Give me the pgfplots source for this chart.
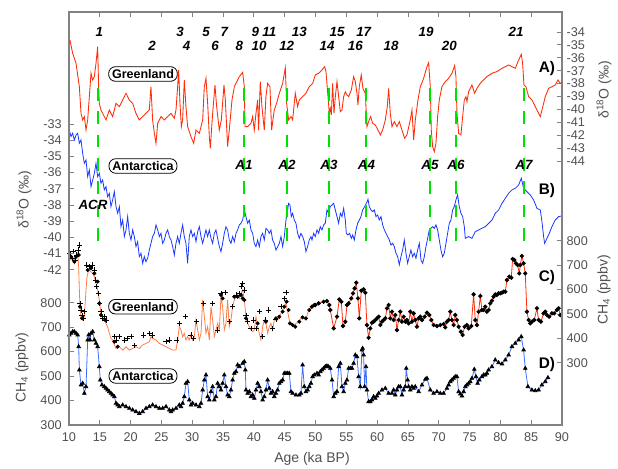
\documentclass[border=0pt]{standalone}
\usepackage{fontspec}
\setmainfont{Liberation Sans}
\usepackage{pgfplots}
\pgfplotsset{compat=1.18}
\definecolor{gred}{RGB}{255,45,10}
\definecolor{ablue}{RGB}{25,55,255}
\definecolor{gorange}{RGB}{255,125,70}
\definecolor{cblue}{RGB}{60,110,255}
\definecolor{dgreen}{RGB}{0,225,0}
\definecolor{axgray}{RGB}{130,130,130}
\definecolor{tickgray}{RGB}{80,80,80}
\pgfplotsset{
  base/.style={
    scale only axis, width=369.75pt, height=309.75pt,
    xmin=10, xmax=90, at={(0pt,0pt)}, anchor=south west,
    /pgf/number format/assume math mode=true,
    ticklabel style={font=\fontsize{9.5}{11}\selectfont, text=tickgray},
    axis line style={axgray, line width=0.8pt},
    major tick style={axgray, line width=0.6pt},
    major tick length=3.5pt, tick align=inside,
  },
  over/.style={base, hide x axis},
}
\begin{document}
\begin{tikzpicture}
\path[use as bounding box] (-51.75pt,-32.25pt) rectangle (411.75pt,318.75pt);
% ---------- frame + Antarctica CH4 (left axis) ----------
\begin{axis}[base, ymin=300, ymax=1988, ytick={300,400,500,600,700,800},
  ytick pos=left, yticklabel pos=left, yticklabel style={xshift=-2pt},
  xtick={10,15,...,90}, xtick pos=both, xticklabel pos=lower,
  xticklabel style={yshift=-2.5pt}]
\addplot[cblue, line width=0.6pt, mark=triangle*, mark size=1.5pt, mark options={black, fill=black, solid}] coordinates {
(10.05,667.9)(10.32,674.7)(10.59,681.5)(10.87,681.5)(11.14,674.7)(11.41,667.9)(11.57,620.2)(11.68,524.8)(11.95,463.5)(12.22,470.3)(12.49,429.4)(12.76,456.7)(13.03,647.5)(13.19,667.9)(13.41,647.5)(13.57,674.7)(13.84,681.5)(14.11,647.5)(14.38,633.8)(14.65,620.2)(14.92,538.4)(15.08,483.9)(15.35,463.5)(15.73,456.7)(16.00,449.9)(16.27,443.0)(16.54,436.2)(16.81,429.4)(17.08,422.6)(17.36,415.8)(17.63,388.5)(17.90,381.7)(18.17,374.9)(18.71,381.7)(19.25,374.9)(19.79,368.1)(20.33,361.3)(20.87,354.5)(21.41,347.6)(21.95,354.5)(22.49,368.1)(23.03,374.9)(23.57,381.7)(24.12,374.9)(24.66,368.1)(25.20,368.1)(25.74,374.9)(26.28,361.3)(26.55,354.5)(26.82,361.3)(27.36,368.1)(27.90,381.7)(28.17,374.9)(28.44,388.5)(28.71,415.8)(28.98,470.3)(29.25,477.1)(29.52,402.2)(29.79,381.7)(30.06,388.5)(30.61,381.7)(31.15,374.9)(31.42,388.5)(31.69,443.0)(31.96,483.9)(32.23,504.4)(32.50,415.8)(32.77,402.2)(33.04,436.2)(33.31,456.7)(33.58,402.2)(33.85,415.8)(34.12,470.3)(34.39,456.7)(34.66,443.0)(34.93,470.3)(35.20,504.4)(35.47,456.7)(35.74,422.6)(36.01,415.8)(36.28,443.0)(36.55,483.9)(36.82,511.2)(37.10,518.0)(37.36,545.3)(37.64,538.4)(38.18,552.1)(38.45,558.9)(38.61,524.8)(38.72,443.0)(38.99,429.4)(39.26,436.2)(39.53,415.8)(39.80,422.6)(40.07,409.0)(40.34,443.0)(40.61,470.3)(40.88,456.7)(41.15,436.2)(41.42,402.2)(41.69,415.8)(41.96,443.0)(42.23,483.9)(42.50,449.9)(42.77,429.4)(43.04,436.2)(43.31,415.8)(43.58,429.4)(43.85,443.0)(44.12,470.3)(44.40,477.1)(44.67,483.9)(44.94,511.2)(45.21,511.2)(45.48,511.2)(45.75,511.2)(46.02,436.2)(46.29,429.4)(46.83,422.6)(47.37,422.6)(47.64,429.4)(47.91,545.3)(48.18,456.7)(48.45,436.2)(48.72,443.0)(48.99,456.7)(49.26,470.3)(49.53,497.6)
(49.80,504.4)(50.24,511.2)(50.51,504.4)(50.78,518.0)(51.05,524.8)(51.32,531.6)(51.59,538.4)(51.86,541.2)(52.13,538.4)(52.40,531.6)(52.68,483.9)(52.95,415.8)(53.22,429.4)(53.49,436.2)(53.76,538.4)(54.03,552.1)(54.30,456.7)(54.57,436.2)(54.84,470.3)(55.11,483.9)(55.38,531.6)(55.65,531.6)(55.92,531.6)(56.19,552.1)(56.46,586.1)(56.73,579.3)(57.00,497.6)(57.27,456.7)(57.54,606.6)(57.65,613.4)(57.81,586.1)(57.97,456.7)(58.19,538.4)(58.35,443.0)(58.62,395.4)(58.89,395.4)(59.16,402.2)(59.43,415.8)(59.70,409.0)(59.98,418.5)(60.25,429.4)(60.79,443.0)(61.33,449.9)(61.87,429.4)(62.41,429.4)(62.68,443.0)(62.95,422.6)(63.22,443.0)(63.49,456.7)(63.76,456.7)(64.03,422.6)(64.30,443.0)(64.57,456.7)(64.73,531.6)(64.95,483.9)(65.11,456.7)(65.38,443.0)(65.65,456.7)(65.92,449.9)(66.19,456.7)(66.74,436.2)(67.28,463.5)(67.82,486.6)(68.09,490.7)(68.63,443.0)(69.17,429.4)(69.71,436.2)(70.25,429.4)(70.79,429.4)(71.33,449.9)(71.60,463.5)(71.87,477.1)(72.14,483.9)(72.41,490.7)(72.68,497.6)(72.95,497.6)(73.23,436.2)(73.50,426.7)(73.77,418.5)(74.04,436.2)(74.31,456.7)(74.58,463.5)(74.85,470.3)(75.12,477.1)(75.39,490.7)(75.77,527.5)(76.04,497.6)(76.31,470.3)(76.58,483.9)(77.01,497.6)(77.28,504.4)(77.55,504.4)(77.82,511.2)(78.09,524.8)(78.63,538.4)(79.17,565.7)(79.71,554.8)(80.26,549.4)(80.80,565.7)(81.34,586.1)(81.88,620.2)(82.42,633.8)(82.96,647.5)(83.39,661.1)(83.77,606.6)(84.04,531.6)(84.47,456.7)(85.12,443.0)(85.66,440.3)(86.20,443.0)(86.74,463.5)(87.29,477.1)(87.72,493.5)};
\end{axis}
% ---------- Greenland CH4 (right axis) ----------
\begin{axis}[over, ymin=45, ymax=1737, ytick={300,400,500,600,700,800},
  ytick pos=right, yticklabel pos=right]
\addplot[gorange, line width=0.6pt] coordinates {
(10.05,741.4)(10.32,720.9)(10.59,734.6)(10.87,707.3)(11.14,727.8)(11.41,748.3)(11.57,693.6)(11.68,598.0)(11.78,529.7)(11.95,488.7)(12.22,475.0)(12.49,488.7)(12.76,598.0)(12.92,652.6)(13.19,680.0)(13.57,673.1)(13.84,666.3)(14.11,652.6)(14.38,625.3)(14.65,598.0)(14.92,557.0)(15.19,502.4)(15.46,488.7)(15.73,475.0)(16.00,461.4)(16.27,447.7)(16.54,420.4)(16.81,399.9)(17.08,393.1)(17.36,372.6)(17.63,358.9)(18.17,365.8)(18.71,352.1)(19.25,365.8)(19.79,352.1)(20.33,358.9)(20.87,365.8)(21.41,358.9)(21.95,372.6)(22.49,379.4)(23.03,386.3)(23.30,406.8)(23.57,399.9)(24.12,393.1)(24.66,379.4)(25.20,372.6)(25.74,365.8)(26.28,358.9)(26.82,352.1)(27.36,352.1)(27.63,393.1)(27.90,447.7)(28.17,434.1)(28.44,406.8)(28.71,420.4)(28.98,393.1)(29.25,406.8)(29.52,393.1)(29.79,413.6)(30.06,393.1)(30.34,406.8)(30.61,475.0)(30.88,434.1)(31.15,393.1)(31.42,420.4)(31.69,557.0)(31.96,488.7)(32.23,420.4)(32.50,447.7)(32.77,393.1)(33.04,529.7)(33.31,475.0)(33.58,406.8)(33.85,434.1)(34.12,461.4)(34.39,434.1)(34.66,570.7)(34.93,529.7)(35.20,434.1)(35.47,461.4)(35.74,557.0)(36.01,447.7)(36.28,475.0)(36.55,529.7)(36.82,557.0)(37.10,570.7)(37.36,577.5)(37.64,563.8)(37.90,584.3)(38.18,598.0)(38.45,557.0)(38.72,488.7)(38.99,461.4)(39.26,447.7)(39.53,434.1)(39.80,427.2)(40.07,434.1)(40.34,488.7)(40.61,447.7)(40.88,420.4)(41.15,393.1)(41.42,447.7)(41.69,475.0)(41.96,461.4)(42.23,420.4)(42.50,447.7)(42.77,461.4)(43.04,434.1)(43.31,475.0)(43.58,481.9)(43.85,475.0)(44.12,488.7)(44.40,502.4)(44.67,516.1)(44.94,529.7)(45.21,543.4)(45.48,509.2)(45.75,475.0)(46.02,461.4)(46.29,454.6)(46.56,450.5)(46.83,461.4)(47.37,468.3)(47.64,481.9)(47.91,488.7)(48.18,481.9)(48.45,475.0)(48.72,502.4)(48.99,516.1)(49.53,529.7)(49.96,536.5)};
\addplot[only marks, mark=+, mark size=1.9pt, mark options={black, line width=0.55pt}] coordinates {
(10.16,748.3)(10.49,727.8)(10.70,755.1)(11.03,720.9)(11.24,741.4)(11.46,761.9)(11.68,782.4)(11.78,543.4)(11.95,516.1)(12.11,495.5)(12.33,481.9)(12.49,509.2)(12.87,700.5)(13.30,693.6)(13.73,700.5)(14.11,680.0)(14.27,639.0)(14.49,611.7)(14.81,584.3)(14.92,543.4)(15.19,509.2)(15.46,481.9)(15.73,488.7)(16.00,475.1)(17.36,406.8)(17.63,393.1)(18.17,406.8)(18.98,393.1)(19.52,399.9)(20.06,406.8)(20.60,372.6)(22.06,413.6)(23.03,420.4)(23.47,413.6)(25.74,386.3)(26.28,393.1)(27.52,393.1)(27.90,461.4)(28.87,488.7)(29.79,413.6)(30.17,399.9)(30.71,468.3)(31.79,543.4)(33.31,543.4)(34.12,434.1)(34.66,584.3)(35.31,587.1)(36.01,468.3)(36.55,529.7)(37.10,577.5)(37.64,584.3)(38.01,611.7)(38.18,625.3)(38.45,598.0)(38.72,495.5)(38.99,468.3)(39.53,440.9)(39.91,475.1)(40.45,440.9)(40.88,509.2)(41.42,406.8)(41.85,475.1)(42.39,516.1)(43.04,440.9)(43.58,477.8)(44.40,529.7)(44.94,563.8)(45.21,587.1)};
\addplot[only marks, mark=*, mark size=1.3pt, mark options={black}] coordinates {
(10.32,734.6)(10.87,714.1)(11.14,734.6)(11.57,741.4)(11.78,529.7)(12.11,481.9)(13.03,680.0)(13.57,686.8)(14.11,666.3)(14.65,632.2)(14.92,543.4)(15.19,495.5)(15.89,475.1)(17.36,386.3)(17.90,365.8)(34.66,577.5)(34.93,563.8)(36.82,570.7)(37.36,570.7)(37.90,577.5)(38.18,563.8)(38.45,557.0)(38.72,481.9)(40.61,461.4)(41.96,468.3)(43.58,481.9)(44.12,488.7)(44.67,509.2)(44.94,529.7)(45.31,550.2)(45.64,516.1)(45.85,461.4)(46.29,454.6)(46.72,447.7)(47.37,468.3)(47.91,486.0)(48.45,481.9)(48.99,516.1)(49.80,536.5)};
\addplot[gred, line width=0.6pt, mark=*, mark size=1.3pt, mark options={black}] coordinates {
(49.43,529.7)(49.97,536.5)(50.51,543.4)(51.32,550.2)(51.86,552.9)(52.24,536.5)(52.40,516.1)(52.95,440.9)(53.49,488.7)(53.86,559.8)(54.19,550.2)(54.46,450.5)(54.84,468.3)(55.11,536.5)(55.38,543.4)(55.81,563.8)(56.08,584.3)(56.35,604.8)(56.62,628.1)(56.89,563.8)(57.11,481.9)(57.43,595.3)(57.81,600.7)(58.08,587.1)(58.35,454.6)(58.62,402.7)(58.89,440.9)(59.16,464.1)(59.43,468.3)(59.71,475.1)(59.98,481.9)(60.25,488.7)(60.52,454.6)(60.79,468.3)(61.06,475.1)(61.33,481.9)(61.60,522.9)(61.87,536.5)(62.14,481.9)(62.41,509.2)(62.68,475.1)(62.95,495.5)(63.22,434.1)(63.49,475.1)(63.76,509.2)(64.03,468.3)(64.30,488.7)(64.57,468.3)(64.84,475.1)(65.11,461.4)(65.38,509.2)(65.65,468.3)(65.92,502.4)(66.19,475.1)(66.47,447.7)(66.74,481.9)(67.01,488.7)(67.28,475.1)(67.71,488.7)(68.09,505.1)(68.47,495.5)(68.79,475.1)(69.17,454.6)(69.71,450.5)(70.25,454.6)(70.79,458.7)(71.06,445.0)(71.33,468.3)(71.60,475.1)(71.87,509.2)(72.14,475.1)(72.41,454.6)(72.68,495.5)(72.95,475.1)(73.23,447.7)(73.60,427.2)(73.87,413.6)(74.20,447.7)(74.58,454.6)(74.85,440.9)(75.28,450.5)(75.66,580.2)(75.93,475.1)(76.20,454.6)(76.47,509.2)(76.74,573.4)(77.01,516.1)(77.28,516.1)(77.55,529.7)(77.82,509.2)(78.09,516.1)(78.36,543.4)(78.63,554.3)(78.90,570.7)(79.17,580.2)(79.44,577.5)(79.71,584.3)(79.99,584.3)(80.26,587.1)(80.53,591.2)(80.80,591.2)(81.07,639.0)(81.45,652.6)(81.77,648.5)(81.99,725.0)(82.26,720.9)(82.53,707.3)(82.80,700.5)(83.07,666.3)(83.23,700.5)(83.50,737.3)(83.77,707.3)(84.04,666.3)(84.31,509.2)(84.58,475.1)(84.85,461.4)(85.12,468.3)(85.50,475.1)(85.93,522.9)(86.20,475.1)(86.58,468.3)(87.01,502.4)(87.29,509.2)(87.56,495.5)(87.93,488.7)(88.37,502.4)(88.75,502.4)(89.18,516.1)(89.45,522.9)(89.72,495.5)};
\end{axis}
% ---------- Antarctica d18O (left axis) ----------
\begin{axis}[over, ymin=-51.58, ymax=-26.09, ytick={-42,-41,...,-33},
  ytick pos=left, yticklabel pos=left, yticklabel style={xshift=-2pt}]
\addplot[ablue, line width=0.6pt] coordinates {
(10.05,-33.37)(10.32,-33.78)(10.59,-33.58)(10.87,-33.99)(11.14,-33.68)(11.41,-33.58)(11.68,-34.19)(11.95,-33.99)(12.22,-34.81)(12.49,-35.43)(12.76,-35.22)(13.03,-36.25)(13.30,-35.84)(13.57,-36.87)(13.84,-36.46)(14.11,-36.05)(14.38,-35.43)(14.65,-36.25)(14.92,-36.05)(15.19,-36.66)(15.46,-36.46)(15.73,-37.07)(16.00,-36.87)(16.27,-37.49)(16.54,-37.28)(16.81,-38.10)(17.08,-37.69)(17.36,-37.18)(17.63,-38.10)(17.90,-38.51)(18.17,-38.10)(18.44,-39.34)(18.71,-38.93)(18.98,-39.95)(19.25,-39.54)(19.52,-38.72)(19.79,-39.75)(20.06,-40.16)(20.33,-39.54)(20.60,-39.95)(20.87,-40.57)(21.14,-40.26)(21.41,-41.19)(21.68,-40.98)(21.95,-41.60)(22.22,-41.19)(22.49,-41.50)(22.76,-41.29)(23.03,-40.78)(23.30,-40.37)(23.57,-39.95)(23.85,-39.75)(24.12,-39.23)(24.39,-39.54)(24.66,-39.95)(24.93,-39.75)(25.20,-40.37)(25.47,-40.16)(25.74,-39.75)(26.01,-39.54)(26.28,-39.95)(26.55,-40.16)(26.82,-40.57)(27.09,-41.09)(27.36,-40.37)(27.63,-39.95)(27.90,-40.37)(28.17,-39.75)(28.44,-39.23)(28.71,-39.95)(28.98,-40.37)(29.25,-41.60)(29.52,-39.95)(29.79,-39.54)(30.06,-39.95)(30.34,-39.75)(30.61,-40.26)(30.88,-39.65)(31.15,-39.34)(31.42,-39.95)(31.69,-40.37)(31.96,-39.95)(32.23,-39.54)(32.50,-39.95)(32.77,-39.54)(33.04,-40.06)(33.31,-40.37)(33.58,-39.75)(33.85,-39.54)(34.12,-40.06)(34.39,-40.57)(34.66,-40.88)(34.93,-40.37)(35.20,-39.75)(35.47,-39.34)(35.74,-39.54)(36.01,-40.16)(36.28,-40.37)(36.55,-39.95)(36.83,-40.26)(37.10,-39.75)(37.37,-39.54)(37.64,-39.23)(37.91,-39.13)(38.18,-38.93)(38.45,-38.31)(38.72,-38.72)(38.99,-39.13)(39.26,-38.93)(39.53,-39.54)(39.80,-39.75)(40.07,-40.37)(40.34,-40.57)(40.61,-40.16)(40.88,-40.57)(41.15,-39.95)(41.42,-39.75)(41.69,-40.16)(41.96,-39.44)(42.23,-39.54)(42.50,-39.75)(42.77,-39.54)(43.04,-40.16)(43.31,-40.37)(43.58,-40.78)(43.86,-40.57)(44.13,-40.37)(44.40,-39.95)(44.67,-40.57)(44.94,-39.95)(45.21,-38.93)(45.48,-38.31)(45.64,-37.90)(45.86,-38.00)(46.07,-38.72)(46.29,-38.51)(46.56,-38.93)(46.83,-39.13)(47.10,-39.75)(47.37,-40.06)(47.64,-39.75)(47.91,-39.95)(48.18,-40.26)(48.45,-40.88)(48.72,-40.57)(48.99,-40.16)(49.26,-39.95)
(49.43,-40.16)(49.70,-39.75)(49.97,-39.95)(50.24,-39.54)(50.51,-39.75)(50.78,-39.34)(51.05,-39.54)(51.32,-39.23)(51.59,-39.13)(51.86,-38.31)(52.13,-38.51)(52.40,-38.10)(52.68,-38.00)(52.95,-37.90)(53.22,-38.31)(53.49,-38.72)(53.76,-39.13)(54.03,-38.51)(54.30,-38.72)(54.57,-38.21)(54.84,-38.93)(55.00,-39.75)(55.27,-39.85)(55.54,-39.75)(55.81,-40.06)(56.03,-39.85)(56.30,-40.16)(56.57,-39.54)(56.84,-39.13)(57.11,-38.93)(57.38,-38.72)(57.65,-38.31)(57.98,-38.10)(58.25,-37.90)(58.52,-37.65)(58.73,-38.10)(59.00,-38.31)(59.27,-38.41)(59.54,-38.31)(59.81,-38.72)(60.08,-38.62)(60.35,-38.93)(60.63,-38.72)(60.90,-39.23)(61.17,-39.54)(61.44,-39.75)(61.71,-39.95)(61.98,-40.16)(62.25,-40.47)(62.52,-40.37)(62.79,-40.57)(63.06,-40.98)(63.33,-41.19)(63.60,-41.70)(63.87,-41.19)(64.14,-40.78)(64.41,-40.16)(64.68,-40.98)(64.95,-41.60)(65.22,-41.19)(65.49,-40.78)(65.76,-41.19)(66.03,-40.98)(66.30,-41.29)(66.57,-40.78)(66.85,-40.37)(67.12,-41.39)(67.39,-41.60)(67.66,-41.19)(67.93,-40.57)(68.20,-40.06)(68.47,-39.54)(68.74,-39.44)(69.01,-39.34)(69.28,-39.44)(69.55,-39.23)(69.82,-39.54)(70.09,-40.16)(70.36,-40.78)(70.63,-41.19)(70.90,-40.98)(71.17,-40.37)(71.44,-39.75)(71.71,-39.13)(71.98,-38.93)(72.25,-38.31)(72.52,-38.10)(72.79,-37.69)(73.06,-37.38)(73.33,-38.10)(73.60,-38.51)(73.88,-38.72)(74.15,-39.34)(74.31,-40.06)(74.85,-39.95)(75.39,-40.06)(75.66,-39.85)(75.93,-39.65)(76.47,-39.54)(77.01,-39.44)(77.55,-39.34)(78.10,-39.13)(78.64,-38.93)(79.18,-38.51)(79.72,-38.31)(80.26,-37.90)(80.80,-37.59)(81.34,-37.28)(81.88,-37.07)(82.42,-36.97)(82.96,-36.77)(83.40,-36.35)(83.77,-36.97)(84.31,-37.18)(84.85,-37.38)(85.40,-37.69)(85.94,-38.21)(86.48,-38.31)(86.75,-39.03)(87.02,-39.95)(87.18,-40.37)(87.56,-40.06)(87.94,-39.75)(88.37,-39.34)(88.91,-38.93)(89.45,-38.72)(89.89,-38.68)};
\end{axis}
% ---------- Greenland d18O (right axis) ----------
\begin{axis}[over, ymin=-64.47, ymax=-32.45, ytick={-44,-43,...,-34},
  ytick pos=right, yticklabel pos=right]
\addplot[gred, line width=0.65pt] coordinates {
(10.16,-34.62)(10.59,-35.65)(11.14,-36.43)(11.68,-38.24)(11.95,-40.31)(12.22,-40.82)(12.49,-40.56)(12.76,-41.60)(13.03,-40.82)(13.30,-39.01)(13.57,-37.20)(13.84,-37.72)(14.11,-37.46)(14.38,-36.43)(14.65,-35.14)(14.81,-38.24)(14.92,-39.53)(15.19,-40.05)(15.73,-40.56)(16.00,-40.82)(16.54,-40.05)(17.08,-40.56)(17.63,-39.53)(18.17,-39.79)(18.71,-39.27)(19.25,-38.75)(19.79,-39.27)(20.33,-39.53)(20.87,-40.31)(21.41,-40.82)(21.95,-40.56)(22.49,-40.31)(23.03,-40.05)(23.30,-38.24)(23.57,-40.82)(23.85,-41.86)(24.12,-42.63)(24.39,-41.08)(24.93,-40.56)(25.47,-40.82)(26.01,-40.56)(26.55,-40.31)(27.09,-40.69)(27.36,-40.05)(27.63,-38.24)(27.79,-36.95)(28.01,-39.53)(28.23,-41.34)(28.44,-40.82)(28.71,-37.72)(28.98,-39.79)(29.25,-41.34)(29.79,-42.11)(30.23,-42.63)(30.61,-41.60)(31.15,-41.86)(31.69,-40.82)(31.96,-38.24)(32.23,-37.59)(32.50,-39.53)(32.77,-42.11)(32.93,-43.02)(33.31,-40.31)(33.69,-38.11)(33.96,-39.79)(34.39,-41.60)(34.72,-40.82)(35.15,-38.11)(35.37,-39.27)(35.74,-42.89)(36.01,-41.60)(36.45,-39.27)(36.83,-38.24)(37.37,-37.72)(37.64,-37.46)(38.18,-37.13)(38.45,-38.24)(38.56,-41.34)(38.99,-41.34)(39.53,-41.08)(39.80,-40.56)(40.07,-41.60)(40.34,-40.31)(40.61,-39.27)(40.77,-41.60)(41.04,-37.85)(41.31,-39.79)(41.69,-41.60)(41.96,-39.01)(42.23,-37.98)(42.61,-38.24)(42.88,-41.60)(43.31,-40.05)(43.69,-39.53)(44.13,-38.75)(44.67,-37.98)(45.10,-36.77)(45.32,-39.53)(45.64,-40.82)(46.02,-40.56)(46.29,-40.82)(46.72,-38.75)(47.10,-39.79)(47.37,-39.27)(47.91,-39.01)(48.45,-38.75)(48.99,-38.24)(49.54,-37.98)(49.97,-37.33)(50.51,-37.20)(51.05,-36.95)(51.49,-36.69)(51.70,-37.07)(52.03,-39.01)(52.24,-40.31)(52.40,-39.92)(52.57,-40.43)(52.78,-37.98)(53.00,-40.31)(53.22,-39.01)(53.49,-37.85)(53.76,-39.01)(54.03,-40.18)(54.30,-40.05)(54.57,-39.01)(54.84,-38.63)(55.11,-38.88)(55.38,-39.01)(55.81,-38.50)(56.19,-37.46)(56.46,-37.85)(56.73,-38.75)(56.89,-39.66)(57.11,-38.24)(57.43,-37.33)(57.70,-38.37)(58.08,-38.75)(58.35,-41.34)(58.62,-40.95)(58.95,-40.56)(59.27,-41.08)(59.71,-41.21)(60.14,-41.60)(60.52,-41.98)(60.90,-41.60)(61.33,-40.82)(61.65,-39.79)(61.87,-38.37)(62.14,-40.31)(62.41,-41.34)(62.79,-40.95)(63.22,-41.34)(63.60,-40.95)(64.03,-41.60)(64.47,-42.24)(64.84,-41.98)(65.38,-40.82)(65.66,-40.05)(65.93,-42.37)(66.20,-40.82)(66.63,-39.27)(67.01,-38.24)(67.55,-37.59)(68.09,-36.69)(68.36,-36.38)(68.63,-38.24)(68.79,-41.60)(69.01,-42.89)(69.28,-43.28)(69.55,-42.63)(69.82,-40.56)(70.09,-39.27)(70.52,-38.24)(71.06,-37.85)(71.60,-37.59)(72.15,-37.20)(72.58,-36.61)(72.79,-37.46)(72.96,-40.31)(73.23,-41.86)(73.60,-41.98)(73.88,-40.56)(74.15,-39.27)(74.42,-39.01)(74.58,-39.40)(74.85,-38.63)(75.39,-38.11)(75.82,-38.75)(76.20,-38.37)(76.74,-37.98)(77.28,-37.72)(77.82,-37.46)(78.64,-37.20)(79.45,-37.07)(80.26,-36.82)(80.80,-36.69)(81.34,-36.56)(81.88,-36.69)(82.42,-36.82)(82.85,-36.30)(83.40,-35.73)(83.61,-36.43)(83.83,-38.11)(84.15,-38.24)(84.59,-39.01)(85.13,-39.27)(85.67,-39.79)(86.21,-40.31)(86.48,-40.56)(86.75,-40.05)(87.29,-39.01)(87.83,-38.37)(88.37,-38.24)(88.91,-38.11)(89.34,-37.72)(89.72,-37.98)(89.99,-37.90)};
\pgfplotsinvokeforeach{14.65,38.45,45.32,52.13,58.25,68.63,72.79,83.88}{
  \draw[dgreen, line width=1.5pt, dash pattern=on 9.5pt off 8pt] (axis cs:#1,-38.34) -- (axis cs:#1,-50.98);
}
\end{axis}
% ---------- annotations in image-pixel coordinates ----------
\begin{scope}[x=0.75pt, y=-0.75pt, shift={(-51.75pt,318.75pt)},
  every node/.style={inner sep=0pt}]
\tikzset{don/.style={font=\fontsize{10}{12}\selectfont\bfseries\itshape},
         box/.style={draw=black, line width=0.6pt, rounded corners=5pt, fill=white,
           inner xsep=2.5pt, inner ysep=2pt, font=\fontsize{9.4}{11}\selectfont\bfseries},
         lab/.style={font=\fontsize{11.5}{13}\selectfont\bfseries},
         ax/.style={font=\fontsize{10.5}{12}\selectfont, text=tickgray}}
\node[don] at (99.3,32) {1};
\node[don] at (152,45.7) {2};
\node[don] at (180,32) {3};
\node[don] at (186.7,45.7) {4};
\node[don] at (206,32) {5};
\node[don] at (215,45.7) {6};
\node[don] at (224.3,32) {7};
\node[don] at (239.3,45.7) {8};
\node[don] at (255.3,32) {9};
\node[don] at (259,45.7) {10};
\node[don] at (269.3,32) {11};
\node[don] at (286.7,45.7) {12};
\node[don] at (299.3,32) {13};
\node[don] at (327,45.7) {14};
\node[don] at (337,32) {15};
\node[don] at (355.3,45.7) {16};
\node[don] at (363.7,32) {17};
\node[don] at (391,45.7) {18};
\node[don] at (426,32) {19};
\node[don] at (449.3,45.7) {20};
\node[don] at (516,32) {21};
\node[box] at (143,74) {Greenland};
\node[box] at (143,166) {Antarctica};
\node[box] at (143,306.7) {Greenland};
\node[box] at (143,376) {Antarctica};
\node[don] at (244,165) {A1};
\node[don] at (287,165) {A2};
\node[don] at (329,165) {A3};
\node[don] at (366.5,165) {A4};
\node[don] at (430,165) {A5};
\node[don] at (456,165) {A6};
\node[don] at (524,165) {A7};
\node[don] at (93,205) {ACR};
\node[lab] at (547,69) {A)};
\node[lab] at (547,191) {B)};
\node[lab] at (547,278) {C)};
\node[lab] at (547,365) {D)};
\node[ax, rotate=90] at (24,200) {δ\textsuperscript{18}O (‰)};
\node[ax, rotate=90] at (22,368) {CH\textsubscript{4} (ppbv)};
\node[ax, rotate=90] at (604,90) {δ\textsuperscript{18}O (‰)};
\node[ax, rotate=90] at (604,290) {CH\textsubscript{4} (ppbv)};
\node[ax] at (312,459) {Age (ka BP)};
\end{scope}
\end{tikzpicture}
\end{document}
